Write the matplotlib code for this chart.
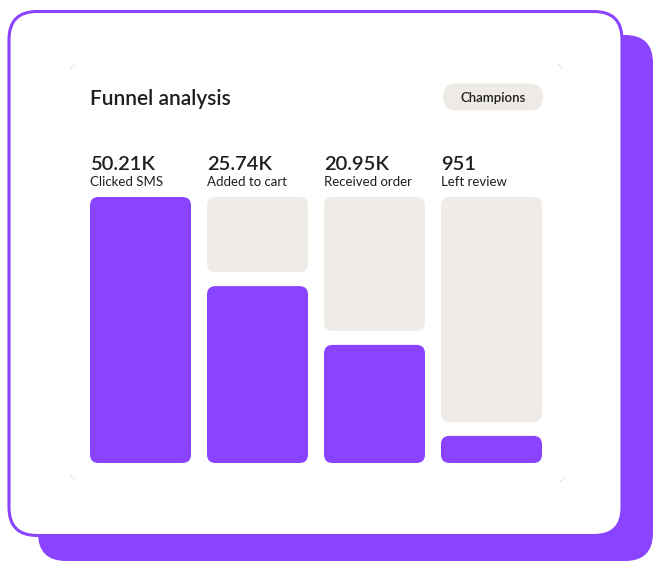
import matplotlib
matplotlib.use("Agg")
import matplotlib.pyplot as plt
from matplotlib.patches import FancyBboxPatch, Arc
from matplotlib import transforms

# ---- data ----
stages = ["Clicked SMS", "Added to cart", "Received order", "Left review"]
value_labels = ["50.21K", "25.74K", "20.95K", "951"]
fill_share = [1.0, 0.665, 0.444, 0.102]   # purple part of each column
title = "Funnel analysis"
badge = "Champions"

PURPLE = "#8A43FF"
GREY = "#EFECE8"
TEXT = "#1E1E1E"
FONT = ["Lato", "DejaVu Sans"]

W, H = 653, 561
fig = plt.figure(figsize=(W / 100, H / 100), dpi=100)
bg = fig.add_axes([0, 0, 1, 1])
bg.set_xlim(0, W)
bg.set_ylim(H, 0)
bg.axis("off")

# shadow card
bg.add_patch(FancyBboxPatch((38, 35), 615, 526, boxstyle="round,pad=0,rounding_size=28",
                            fc=PURPLE, ec="none", zorder=1))
# main card
bg.add_patch(FancyBboxPatch((9, 11.5), 613, 524, boxstyle="round,pad=0,rounding_size=28",
                            fc="white", ec=PURPLE, lw=2.2, zorder=2))
# faint corner marks
for (cx, cy, t1, t2) in [(78, 72, 200, 250), (555, 72, 290, 340), (78, 472, 110, 160), (557, 474, 20, 70)]:
    bg.add_patch(Arc((cx, cy), 16, 16, theta1=t1, theta2=t2, color="#d8d8d8", lw=0.6, zorder=3))

# title and badge
bg.text(90, 105, title, fontsize=15, fontweight="semibold", color=TEXT, family=FONT,
        va="baseline", ha="left", zorder=5)
bg.add_patch(FancyBboxPatch((443, 83.5), 100, 27, boxstyle="round,pad=0,rounding_size=13.5",
                            fc="#EEEBE7", ec="none", zorder=4))
bg.text(493, 97.5, badge, fontsize=9.5, fontweight="semibold", color=TEXT, family=FONT,
        va="center", ha="center", zorder=5)

# bars axes: x 90..542 px, y 197..463 px
pitch, width = 117.0, 101.0
wfrac = width / pitch
x0 = -wfrac / 2
x1 = len(stages) - 1 + wfrac / 2
ax = fig.add_axes([90 / W, 1 - 463 / H, 452 / W, 266 / H])
ax.set_xlim(x0, x1)
ax.set_ylim(0, 1)
ax.axis("off")
ax.set_zorder(3)
ax.patch.set_alpha(0)

aspect = pitch / 266.0
r = 8.5 / pitch
gap = 14 / 266.0

def rbar(x, y, h, color):
    ax.add_patch(FancyBboxPatch((x - wfrac / 2, y), wfrac, h,
                                boxstyle=f"round,pad=0,rounding_size={r}",
                                mutation_aspect=aspect, fc=color, ec="none"))

for i, f in enumerate(fill_share):
    rbar(i, 0, f, PURPLE)
    if f < 1.0:
        top = f + gap
        rbar(i, top, 1 - top, GREY)

# value labels above columns
tr = transforms.blended_transform_factory(ax.transData, bg.transData)
for i, (v, s) in enumerate(zip(value_labels, stages)):
    ax.text(i - wfrac / 2, 169.5, v, transform=tr, fontsize=14.5, fontweight="semibold",
            color=TEXT, family=FONT, va="baseline", ha="left")
    ax.text(i - wfrac / 2, 186, s, transform=tr, fontsize=9.5, color=TEXT, family=FONT,
            va="baseline", ha="left")

fig.savefig("out.png", dpi=100)
